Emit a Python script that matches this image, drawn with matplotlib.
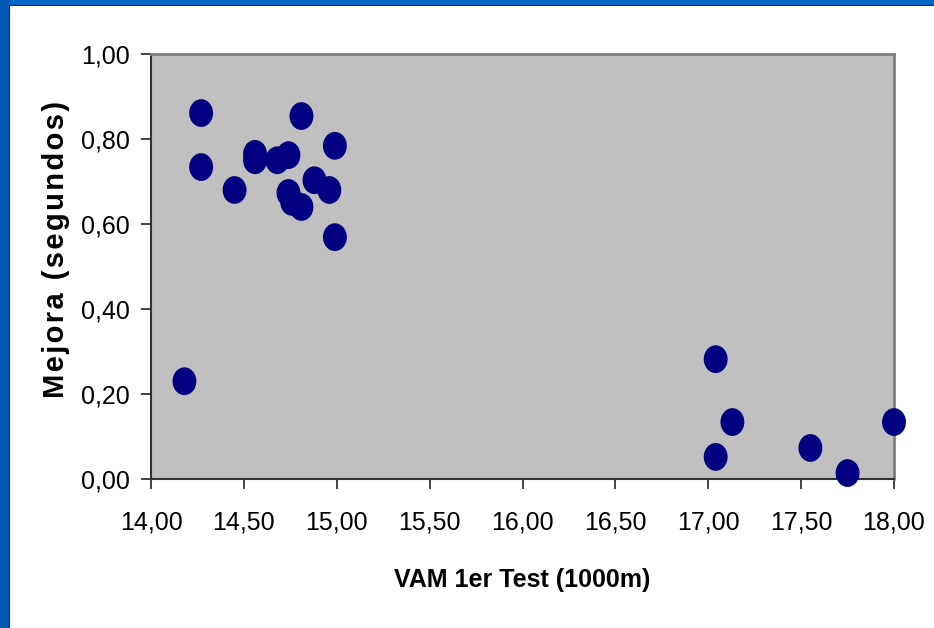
import numpy as np
import matplotlib
matplotlib.use("Agg")
import matplotlib.pyplot as plt
from matplotlib.path import Path
from matplotlib.transforms import Affine2D
from matplotlib.ticker import FuncFormatter
from matplotlib.patches import Rectangle

# VAM 1er test (x) vs mejora (y)
vam = [14.18, 14.27, 14.27, 14.45, 14.56, 14.56, 14.68, 14.74, 14.74, 14.76,
       14.81, 14.81, 14.88, 14.96, 14.99, 14.99,
       17.04, 17.13, 17.04, 17.55, 17.75, 18.00]
mejora = [0.23, 0.861, 0.734, 0.68, 0.765, 0.75, 0.75, 0.762, 0.673, 0.652,
          0.64, 0.854, 0.703, 0.68, 0.784, 0.569,
          0.282, 0.134, 0.052, 0.073, 0.014, 0.134]

x_ticks = [14.0, 14.5, 15.0, 15.5, 16.0, 16.5, 17.0, 17.5, 18.0]
y_ticks = [0.0, 0.2, 0.4, 0.6, 0.8, 1.0]

plt.rcParams['font.family'] = ['Liberation Sans', 'DejaVu Sans']

fig = plt.figure(figsize=(9.34, 6.28), dpi=100)
W, H = 934, 628

# slide frame: blue strips on top and left
fig.patches.append(Rectangle((0, 1 - 5 / H), 1, 5 / H, transform=fig.transFigure,
                             facecolor='#0063C6', edgecolor='none', zorder=0))
fig.patches.append(Rectangle((0, 1 - 6 / H), 1, 1 / H, transform=fig.transFigure,
                             facecolor='#1a2a40', edgecolor='none', zorder=0))
fig.patches.append(Rectangle((0, 0), 9 / W, 1, transform=fig.transFigure,
                             facecolor='#0055B5', edgecolor='none', zorder=0))
fig.patches.append(Rectangle((9 / W, 0), 1 / W, 1 - 5 / H, transform=fig.transFigure,
                             facecolor='#1a2a40', edgecolor='none', zorder=0))

ax = fig.add_axes([151 / W, 1 - 479 / H, (894 - 151) / W, (479 - 54) / H])
ax.set_facecolor('#C0C0C0')

ellipse = Path.unit_circle().transformed(Affine2D().scale(0.86, 1.0))
ax.scatter(vam, mejora, marker=ellipse, s=400, color='#000080',
           edgecolors='none', zorder=3, clip_on=False)

ax.set_xlim(14.0, 18.0)
ax.set_ylim(0.0, 1.0)
ax.set_xticks(x_ticks)
ax.set_yticks(y_ticks)
fmt = FuncFormatter(lambda v, p: f"{v:.2f}".replace('.', ','))
ax.xaxis.set_major_formatter(fmt)
ax.yaxis.set_major_formatter(fmt)
ax.tick_params(axis='both', direction='out', length=7, width=1.2,
               labelsize=18, color='#222222')
ax.tick_params(axis='x', pad=16)
ax.tick_params(axis='y', pad=8)

for side in ['top', 'right']:
    ax.spines[side].set_color('#808080')
    ax.spines[side].set_linewidth(2)
for side in ['left', 'bottom']:
    ax.spines[side].set_color('#333333')
    ax.spines[side].set_linewidth(1.5)

ax.set_xlabel('VAM 1er Test (1000m)', fontsize=18, fontweight='bold')
ax.xaxis.set_label_coords(0.5, (479 - 580) / 425)
ax.xaxis.label.set_va('center')

# y label in the original has a little extra letter spacing
ylab = '\u200a'.join('Mejora (segundos)')
ax.set_ylabel(ylab, fontsize=21, fontweight='bold')
ax.yaxis.set_label_coords((56 - 151) / 743, (479 - 249) / 425)
ax.yaxis.label.set_va('center')

fig.savefig('out.png', dpi=100, facecolor='white')
